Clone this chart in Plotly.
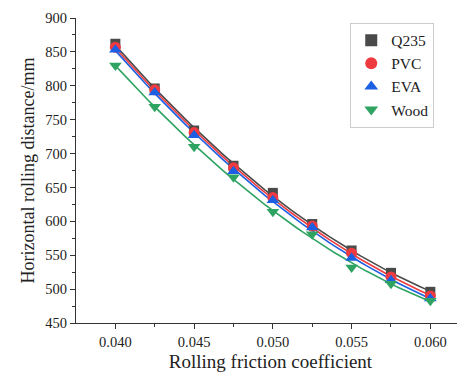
import numpy as np
import plotly.graph_objects as go

friction = [0.040, 0.0425, 0.045, 0.0475, 0.050, 0.0525, 0.055, 0.0575, 0.060]
q235 = [862, 796, 734, 682, 642, 596, 557, 524, 496]
pvc = [857, 794, 731, 679, 635, 593, 553, 518, 490]
eva = [853, 790, 727, 674, 631, 591, 546, 513, 486]
wood = [830, 769, 710, 665, 614, 581, 532, 508, 483]

series_names = ["Q235", "PVC", "EVA", "Wood"]
series_vals = [q235, pvc, eva, wood]
colors = ["#4a4a4a", "#ef3b3f", "#1d5fe3", "#2fa462"]
symbols = ["square", "circle", "triangle-up", "triangle-down"]
sizes = [10, 11, 11, 11]

fig = go.Figure()
xf = np.linspace(min(friction), max(friction), 60)
for name, vals, c in zip(series_names, series_vals, colors):
    coef = np.polyfit(friction, vals, 2)
    fig.add_trace(go.Scatter(x=xf, y=np.polyval(coef, xf), mode="lines",
                             line=dict(color=c, width=1.6), showlegend=False,
                             hoverinfo="skip"))
for name, vals, c, s, sz in zip(series_names, series_vals, colors, symbols, sizes):
    fig.add_trace(go.Scatter(x=friction, y=vals, mode="markers", name=name,
                             marker=dict(color=c, symbol=s, size=sz,
                                         line=dict(width=0))))

font = "Liberation Serif, Times New Roman, serif"
fig.update_layout(
    width=457, height=368,
    margin=dict(l=68, r=0, t=10, b=53),
    paper_bgcolor="white", plot_bgcolor="white",
    font=dict(family=font, color="#222", size=14),
    legend=dict(x=0.705, y=0.985, xanchor="left", yanchor="top",
                bordercolor="#cccccc", borderwidth=1, bgcolor="white",
                font=dict(size=15.5, family=font), itemsizing="constant",
                tracegroupgap=0),
)
fig.update_xaxes(range=[0.0375, 0.0622], tickvals=[0.040, 0.045, 0.050, 0.055, 0.060],
                 tickformat=".3f", ticks="outside", ticklen=5, tickcolor="#333",
                 showline=True, linecolor="#333", linewidth=1.2, showgrid=False,
                 zeroline=False,
                 minor=dict(tickvals=[0.0425, 0.0475, 0.0525, 0.0575], ticks="outside",
                            ticklen=3, tickcolor="#333"),
                 title=dict(text="Rolling friction coefficient", font=dict(size=19),
                            standoff=6),
                 tickfont=dict(size=14.5))
fig.update_yaxes(range=[450, 900], dtick=50, ticks="outside", ticklen=5, tickcolor="#333",
                 showline=True, linecolor="#333", linewidth=1.2, showgrid=False,
                 zeroline=False,
                 minor=dict(dtick=25, ticks="outside", ticklen=3, tickcolor="#333"),
                 title=dict(text="Horizontal rolling distance/mm", font=dict(size=18),
                            standoff=5),
                 tickfont=dict(size=14.5))

fig.write_html("out.html")
